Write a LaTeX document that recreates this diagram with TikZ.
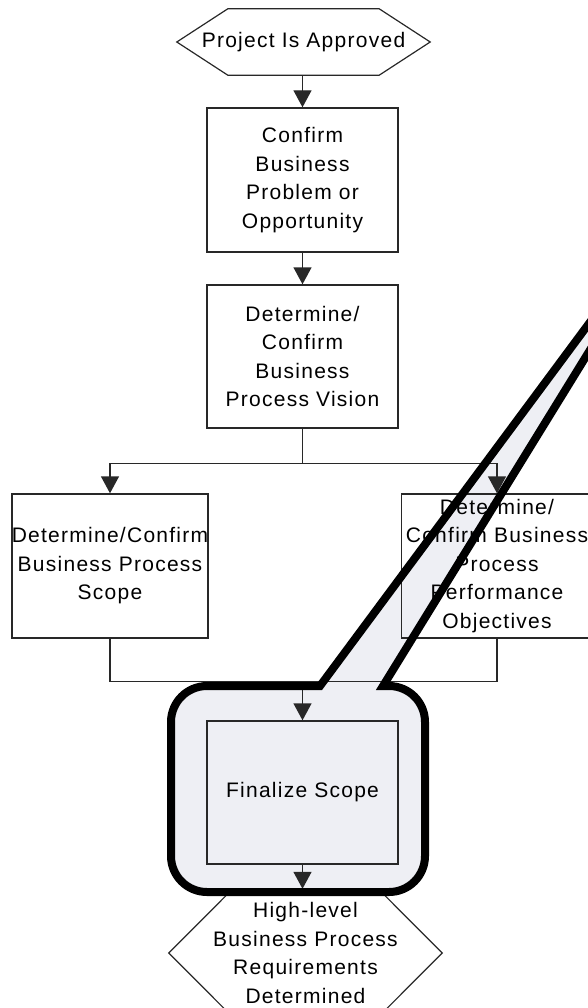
\documentclass[tikz,border=0pt]{standalone}
\usepackage{fontspec}
\setmainfont{Liberation Sans}[LetterSpace=6.0]
\usetikzlibrary{arrows.meta,calc}
\definecolor{calloutfill}{RGB}{238,239,244}
\definecolor{edgegray}{RGB}{40,40,40}

\begin{document}
\begin{tikzpicture}[x=1pt,y=-1pt,
  label font/.style={font=\fontsize{21}{28.5}\selectfont},
  stepbox/.style={draw=edgegray, line width=1.4pt, minimum width=191pt,
    minimum height=144pt, inner sep=0pt, align=center, label font},
  hexnode/.style={inner sep=0pt, align=center, label font},
  hexline/.style={draw=edgegray, line width=1.2pt},
  wire/.style={draw=edgegray, line width=1.4pt},
  flow/.style={wire, -{Triangle[width=18pt,length=17pt]}},
  calloutline/.style={line width=8pt, line join=miter, draw=black},
]
\useasboundingbox (0,0) rectangle (588,1008);
\clip (0,0) rectangle (588,1008);

% callout highlight: fill first so the flow chart stays visible on top
\coordinate (tailL) at (320,686);
\coordinate (tailR) at (383,686);
\coordinate (tip) at (691,186);
\fill[calloutfill] (tailL) -- (tip) -- (tailR) -- (389,686)
  arc[start angle=-90, end angle=0, radius=36] -- (425,856)
  arc[start angle=0, end angle=90, radius=36] -- (207,892)
  arc[start angle=90, end angle=180, radius=36] -- (171,722)
  arc[start angle=180, end angle=270, radius=36] -- cycle;

% start and end events (hexagons)
\node[hexnode, minimum width=253pt, minimum height=66pt] (start) at (303.5,42)
  {Project Is Approved};
\draw[hexline] (start.west) -- ($(start.north west)+(51,0)$)
  -- ($(start.north east)+(-51,0)$) -- (start.east)
  -- ($(start.south east)+(-51,0)$) -- ($(start.south west)+(51,0)$) -- cycle;

\node[hexnode, minimum width=273pt, minimum height=128pt] (finish) at (305.5,953)
  {High-level\\Business Process\\Requirements\\Determined};
\draw[hexline] (finish.west) -- ($(finish.north west)+(64,0)$)
  -- ($(finish.north east)+(-64,0)$) -- (finish.east)
  -- ($(finish.south east)+(-64,0)$) -- ($(finish.south west)+(64,0)$) -- cycle;

% process steps
\node[stepbox] (problem) at (302.5,180)
  {Confirm\\Business\\Problem or\\Opportunity};
\node[stepbox, minimum height=143pt] (vision) at (302.5,356.5)
  {Determine/\\Confirm\\Business\\Process Vision};
\node[stepbox] (scope) at (110,566)
  {Determine/Confirm\\Business Process\\Scope};
\node[stepbox] (perf) at (497,566)
  {Determine/\\Confirm Business\\Process\\Performance\\Objectives};
\node[stepbox, minimum height=143pt] (final) at (302.5,792.5)
  {Finalize Scope};

% connectors
\draw[flow] (start.south -| problem.north) -- (problem.north);
\draw[flow] (problem.south) -- (vision.north);
\path (vision.south) ++(0,35) coordinate (split);
\draw[wire] (vision.south) -- (split);
\draw[flow] (split) -| (scope.north);
\draw[flow] (split) -| (perf.north);
\path (scope.south) ++(0,43) coordinate (mergeL);
\coordinate (merge) at (final.north |- mergeL);
\draw[wire] (scope.south) -- (mergeL) -| (perf.south);
\draw[flow] (merge) -- (final.north);
\draw[flow] (final.south) -- (final.south |- finish.north);

% callout outline on top
\draw[calloutline] (tailL) -- (tip) -- (tailR) -- (389,686)
  arc[start angle=-90, end angle=0, radius=36] -- (425,856)
  arc[start angle=0, end angle=90, radius=36] -- (207,892)
  arc[start angle=90, end angle=180, radius=36] -- (171,722)
  arc[start angle=180, end angle=270, radius=36] -- cycle;
\end{tikzpicture}
\end{document}
